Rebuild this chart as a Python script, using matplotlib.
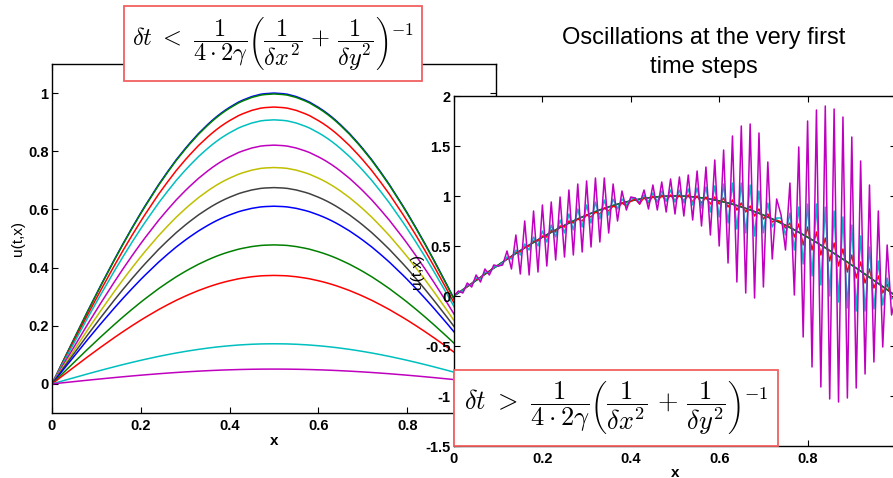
import matplotlib
matplotlib.use('Agg')
import matplotlib.pyplot as plt
from matplotlib.patches import Rectangle
import numpy as np

plt.rcParams['font.family'] = ['Liberation Sans', 'DejaVu Sans']
plt.rcParams['axes.unicode_minus'] = False
plt.rcParams['xtick.direction'] = 'in'
plt.rcParams['ytick.direction'] = 'in'

# MATLAB default colour order
colors = ['#0000ff', '#008000', '#ff0000', '#00bfbf', '#bf00bf', '#bfbf00', '#404040']

# ---- stable case (left): peak heights at x=0.5 (same sine profile as u_smooth)
peaks_left = [1.0, 0.997, 0.952, 0.908, 0.821, 0.744, 0.675, 0.611, 0.478, 0.373, 0.138, 0.051]

# ---- unstable case (right), 101 grid points
u_smooth = [0.000, 0.031, 0.063, 0.094, 0.125, 0.156, 0.187, 0.218, 0.249, 0.279,
            0.309, 0.339, 0.368, 0.397, 0.426, 0.454, 0.482, 0.509, 0.536, 0.562,
            0.588, 0.613, 0.637, 0.661, 0.685, 0.707, 0.729, 0.750, 0.771, 0.790,
            0.809, 0.827, 0.844, 0.861, 0.876, 0.891, 0.905, 0.918, 0.930, 0.941,
            0.951, 0.960, 0.969, 0.976, 0.982, 0.988, 0.992, 0.996, 0.998, 0.999,
            1.000, 0.999, 0.998, 0.996, 0.992, 0.988, 0.982, 0.976, 0.969, 0.960,
            0.951, 0.941, 0.930, 0.918, 0.905, 0.891, 0.876, 0.861, 0.844, 0.827,
            0.809, 0.790, 0.771, 0.750, 0.729, 0.707, 0.685, 0.661, 0.637, 0.613,
            0.588, 0.562, 0.536, 0.509, 0.482, 0.454, 0.426, 0.397, 0.368, 0.339,
            0.309, 0.279, 0.249, 0.218, 0.187, 0.156, 0.125, 0.094, 0.063, 0.031, 0.000]
u_red = [0.00, 0.04, 0.05, 0.10, 0.12, 0.17, 0.18, 0.23, 0.24, 0.29,
         0.30, 0.33, 0.38, 0.39, 0.44, 0.44, 0.49, 0.50, 0.55, 0.55,
         0.60, 0.59, 0.66, 0.64, 0.70, 0.69, 0.75, 0.73, 0.77, 0.75,
         0.81, 0.79, 0.84, 0.82, 0.88, 0.85, 0.90, 0.88, 0.93, 0.90,
         0.95, 0.97, 0.92, 0.99, 0.93, 1.00, 0.94, 1.01, 0.95, 1.01,
         0.95, 1.01, 0.95, 1.01, 0.94, 1.00, 0.93, 0.99, 0.92, 0.99,
         0.92, 0.98, 0.89, 0.96, 0.86, 0.93, 0.84, 0.90, 0.80, 0.87,
         0.77, 0.82, 0.74, 0.76, 0.74, 0.68, 0.73, 0.59, 0.72, 0.51,
         0.69, 0.46, 0.64, 0.41, 0.58, 0.35, 0.53, 0.30, 0.47, 0.24,
         0.41, 0.18, 0.34, 0.13, 0.27, 0.08, 0.20, 0.03, 0.12, -0.02, 0.00]
u_cyan = [0.00, 0.04, 0.05, 0.11, 0.11, 0.18, 0.17, 0.24, 0.23, 0.29,
          0.30, 0.33, 0.39, 0.37, 0.46, 0.41, 0.52, 0.46, 0.59, 0.50,
          0.65, 0.54, 0.71, 0.59, 0.76, 0.63, 0.82, 0.66, 0.87, 0.69,
          0.91, 0.73, 0.94, 0.77, 0.96, 0.81, 0.97, 0.87, 0.97, 0.91,
          0.97, 0.98, 0.94, 1.01, 0.94, 1.03, 0.94, 1.05, 0.95, 1.06,
          0.94, 1.06, 0.93, 1.07, 0.91, 1.08, 0.88, 1.09, 0.84, 1.10,
          0.79, 1.12, 0.73, 1.13, 0.67, 1.13, 0.63, 1.11, 0.60, 1.05,
          0.63, 0.93, 0.69, 0.78, 0.78, 0.61, 0.83, 0.46, 0.89, 0.32,
          0.92, 0.20, 0.92, 0.11, 0.89, 0.00, 0.85, -0.06, 0.79, -0.12,
          0.71, -0.15, 0.60, -0.15, 0.49, -0.13, 0.35, -0.09, 0.18, -0.03, 0.00]
u_magenta = [0.00, 0.05, 0.03, 0.13, 0.09, 0.21, 0.14, 0.27, 0.21, 0.31,
             0.30, 0.31, 0.45, 0.27, 0.61, 0.22, 0.75, 0.21, 0.85, 0.24,
             0.91, 0.30, 0.94, 0.36, 0.99, 0.39, 1.06, 0.41, 1.12, 0.44,
             1.15, 0.49, 1.18, 0.54, 1.18, 0.63, 1.12, 0.75, 1.05, 0.86,
             0.99, 0.98, 0.92, 1.06, 0.87, 1.11, 0.86, 1.14, 0.84, 1.17,
             0.82, 1.19, 0.80, 1.21, 0.76, 1.25, 0.70, 1.29, 0.61, 1.36,
             0.50, 1.46, 0.33, 1.60, 0.14, 1.70, 0.03, 1.72, -0.02, 1.63,
             0.09, 1.34, 0.37, 0.97, 0.81, 0.46, 1.13, 0.01, 1.49, -0.41,
             1.75, -0.71, 1.86, -0.91, 1.90, -1.03, 1.87, -1.06, 1.79, -1.02,
             1.59, -0.92, 1.35, -0.78, 1.11, -0.66, 0.85, -0.51, 0.51, -0.19, 0.00]

xt_labels = ['0', '0.2', '0.4', '0.6', '0.8', '1']
yt_left = ['0', '0.2', '0.4', '0.6', '0.8', '1']
yt_right = ['-1.5', '-1', '-0.5', '0', '0.5', '1', '1.5', '2']

W, H = 893, 478
fig = plt.figure(figsize=(W / 100, H / 100), dpi=100)


def rect(l, t, r, b):
    return [l / W, 1 - b / H, (r - l) / W, (b - t) / H]


def style(ax):
    for s in ax.spines.values():
        s.set_linewidth(1.0)
    ax.tick_params(which='both', top=True, right=True, length=4, width=0.8,
                   labelsize=10.5, pad=2.5)
    ax.xaxis.set_tick_params(pad=4)


# left axes
ax1 = fig.add_axes(rect(52, 64, 496, 413))
x_grid = np.linspace(0, 1, len(u_smooth))
for i, p in enumerate(peaks_left):
    ax1.plot(x_grid, p * np.array(u_smooth), color=colors[i % 7], lw=1.1)
ax1.set_xlim(0, 1)
ax1.set_ylim(-0.1, 1.1)
ax1.set_xticks(np.linspace(0, 1, 6))
ax1.set_xticklabels(xt_labels, fontweight='bold')
ax1.set_yticks(np.linspace(0, 1, 6))
ax1.set_yticklabels(yt_left, fontweight='bold')
style(ax1)
ax1.set_xlabel('x', fontsize=11, fontweight='bold', labelpad=1)
ax1.set_ylabel('u(t,x)', fontsize=11, labelpad=2)

# right axes
ax2 = fig.add_axes(rect(454, 96, 896, 446))
for i, u in enumerate([u_smooth, u_smooth, u_red, u_cyan, u_magenta]):
    ax2.plot(x_grid, u, color=colors[i], lw=1.1)
ax2.set_xlim(0, 1)
ax2.set_ylim(-1.5, 2)
ax2.set_xticks(np.linspace(0, 1, 6))
ax2.set_xticklabels(xt_labels, fontweight='bold')
ax2.set_yticks(np.arange(-1.5, 2.01, 0.5))
ax2.set_yticklabels(yt_right, fontweight='bold')
style(ax2)
ax2.set_xlabel('x', fontsize=11, fontweight='bold', labelpad=0)
ax2.set_ylabel('u(t,x)', fontsize=11, labelpad=1)

# formula boxes
formula_lt = (r'$\delta t\ <\ \dfrac{1}{4\cdot 2\gamma}\left(\dfrac{1}{\delta x^2}'
              r'\,+\,\dfrac{1}{\delta y^2}\right)^{-1}$')
formula_gt = (r'$\delta t\ >\ \dfrac{1}{4\cdot 2\gamma}\left(\dfrac{1}{\delta x^2}'
              r'\,+\,\dfrac{1}{\delta y^2}\right)^{-1}$')
for (l, t, r, b), txt, fs in [((124, 6, 422, 81), formula_lt, 17.5),
                              ((454, 370, 778, 446), formula_gt, 19)]:
    fig.add_artist(Rectangle((l / W, 1 - b / H), (r - l) / W, (b - t) / H,
                             transform=fig.transFigure, facecolor='white',
                             edgecolor='#f06060', lw=1.3, zorder=10))
    fig.text((l + r) / 2 / W, 1 - (t + b) / 2 / H, txt, fontsize=fs,
             math_fontfamily='cm', ha='center', va='center', zorder=11)

fig.text(704 / W, 1 - 38 / H, 'Oscillations at the very first',
         ha='center', va='center', fontsize=17)
fig.text(704 / W, 1 - 67 / H, 'time steps', ha='center', va='center', fontsize=17)

fig.savefig('out.png', dpi=100)
